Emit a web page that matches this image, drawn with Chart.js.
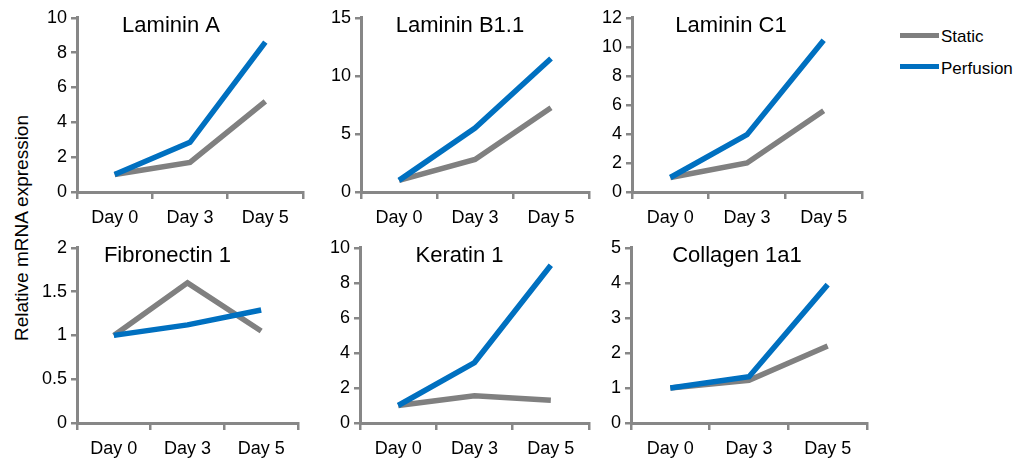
<!DOCTYPE html>
<html>
<head>
<meta charset="utf-8">
<script src="https://cdn.jsdelivr.net/npm/chart.js@4.4.1/dist/chart.umd.min.js"></script>
<style>
  html, body { margin: 0; padding: 0; background: #fff; }
  body { width: 1019px; height: 461px; position: relative; overflow: hidden; font-family: "Liberation Sans", Arial, sans-serif; }
  .panel { position: absolute; }
  .panel canvas { display: block; }
  #ylabel { position: absolute; left: 22px; top: 228px; transform: translate(-50%, -50%) rotate(-90deg); white-space: nowrap; font-size: 19px; color: #000; }
  .leg { position: absolute; font-size: 17px; color: #000; white-space: nowrap; }
  .sw { position: absolute; height: 5px; width: 39px; }
</style>
</head>
<body>
<div id="ylabel">Relative mRNA expression</div>
<div class="sw" style="left:900px; top:33px; background:#7f7f7f;"></div>
<div class="leg" style="left:941px; top:27px;">Static</div>
<div class="sw" style="left:900px; top:64px; background:#0070c0;"></div>
<div class="leg" style="left:941px; top:59px;">Perfusion</div>

<script>
// ---- data ----
const days = ['Day 0', 'Day 3', 'Day 5'];
const genes = ['Laminin A', 'Laminin B1.1', 'Laminin C1', 'Fibronectin 1', 'Keratin 1', 'Collagen 1a1'];

const staticLamininA = [1, 1.7, 5.2];
const perfusionLamininA = [1, 2.85, 8.6];
const staticLamininB = [1, 2.8, 7.25];
const perfusionLamininB = [1, 5.5, 11.5];
const staticLamininC = [1, 2.0, 5.6];
const perfusionLamininC = [1, 3.95, 10.45];
const staticFibronectin = [1, 1.6, 1.05];
const perfusionFibronectin = [1, 1.12, 1.29];
const staticKeratin = [1, 1.55, 1.3];
const perfusionKeratin = [1, 3.45, 9.0];
const staticCollagen = [1, 1.22, 2.2];
const perfusionCollagen = [1, 1.32, 3.95];

const yMax = [10, 15, 12, 2, 10, 5];
const yStep = [2, 5, 2, 0.5, 2, 1];

const staticSeries = [staticLamininA, staticLamininB, staticLamininC, staticFibronectin, staticKeratin, staticCollagen];
const perfusionSeries = [perfusionLamininA, perfusionLamininB, perfusionLamininC, perfusionFibronectin, perfusionKeratin, perfusionCollagen];

// ---- layout (plot area edges in page pixels) ----
const areas = [
  { L: 77,  T: 15,  B: 192, R: 303, dx: -19 },
  { L: 361, T: 15,  B: 192, R: 589, dx: -15 },
  { L: 632, T: 15,  B: 192, R: 862, dx: -16 },
  { L: 77,  T: 245, B: 423, R: 298, dx: -20 },
  { L: 360, T: 245, B: 423, R: 589, dx: -15 },
  { L: 631, T: 245, B: 423, R: 867, dx: -12 }
];
const YW = 60, XH = 40, PT = 12, PR = 12;
const FONT = '"Liberation Sans", Arial, sans-serif';
const AXIS = '#878787';

const panelTitle = {
  id: 'panelTitle',
  afterDraw(chart, args, opts) {
    const ctx = chart.ctx, a = chart.chartArea;
    ctx.save();
    ctx.font = '22px ' + FONT;
    ctx.fillStyle = '#000';
    ctx.textAlign = 'center';
    ctx.textBaseline = 'alphabetic';
    ctx.fillText(opts.text, (a.left + a.right) / 2 + opts.dx, a.top + 14.5);
    ctx.restore();
  }
};

areas.forEach((p, i) => {
  const div = document.createElement('div');
  div.className = 'panel';
  const w = YW + (p.R - p.L) + PR;
  const h = PT + (p.B - p.T) + XH;
  div.style.left = (p.L - YW) + 'px';
  div.style.top = (p.T - PT) + 'px';
  div.style.width = w + 'px';
  div.style.height = h + 'px';
  const cv = document.createElement('canvas');
  cv.width = w;
  cv.height = h;
  cv.style.width = w + 'px';
  cv.style.height = h + 'px';
  div.appendChild(cv);
  document.body.appendChild(div);

  new Chart(cv, {
    type: 'line',
    data: {
      labels: days,
      datasets: [
        { label: 'Static', data: staticSeries[i], borderColor: '#808080', backgroundColor: '#808080',
          borderWidth: 5.5, pointRadius: 0, tension: 0, order: 2 },
        { label: 'Perfusion', data: perfusionSeries[i], borderColor: '#0070c0', backgroundColor: '#0070c0',
          borderWidth: 5.5, pointRadius: 0, tension: 0, order: 1 }
      ]
    },
    options: {
      responsive: false,
      animation: false,
      devicePixelRatio: 1,
      layout: { padding: { top: PT, right: PR, left: 0, bottom: 0 } },
      plugins: {
        legend: { display: false },
        tooltip: { enabled: false },
        panelTitle: { text: genes[i], dx: p.dx }
      },
      scales: {
        x: {
          offset: true,
          grid: { display: true, drawOnChartArea: false, drawTicks: true, tickLength: 7, color: AXIS, lineWidth: 2.5, offset: true },
          border: { display: true, color: AXIS, width: 3 },
          ticks: { color: '#000', font: { family: FONT, size: 18 }, padding: 8, maxRotation: 0, autoSkip: false },
          afterFit(s) { s.height = XH; }
        },
        y: {
          min: 0, max: yMax[i],
          grid: { display: true, drawOnChartArea: false, drawTicks: true, tickLength: 6, color: AXIS, lineWidth: 2.5 },
          border: { display: true, color: AXIS, width: 3 },
          ticks: { stepSize: yStep[i], autoSkip: false, color: '#000', font: { family: FONT, size: 18 }, padding: 4,
                   callback: v => String(v) },
          afterFit(s) { s.width = YW; }
        }
      }
    },
    plugins: [panelTitle]
  });
});
</script>
</body>
</html>
